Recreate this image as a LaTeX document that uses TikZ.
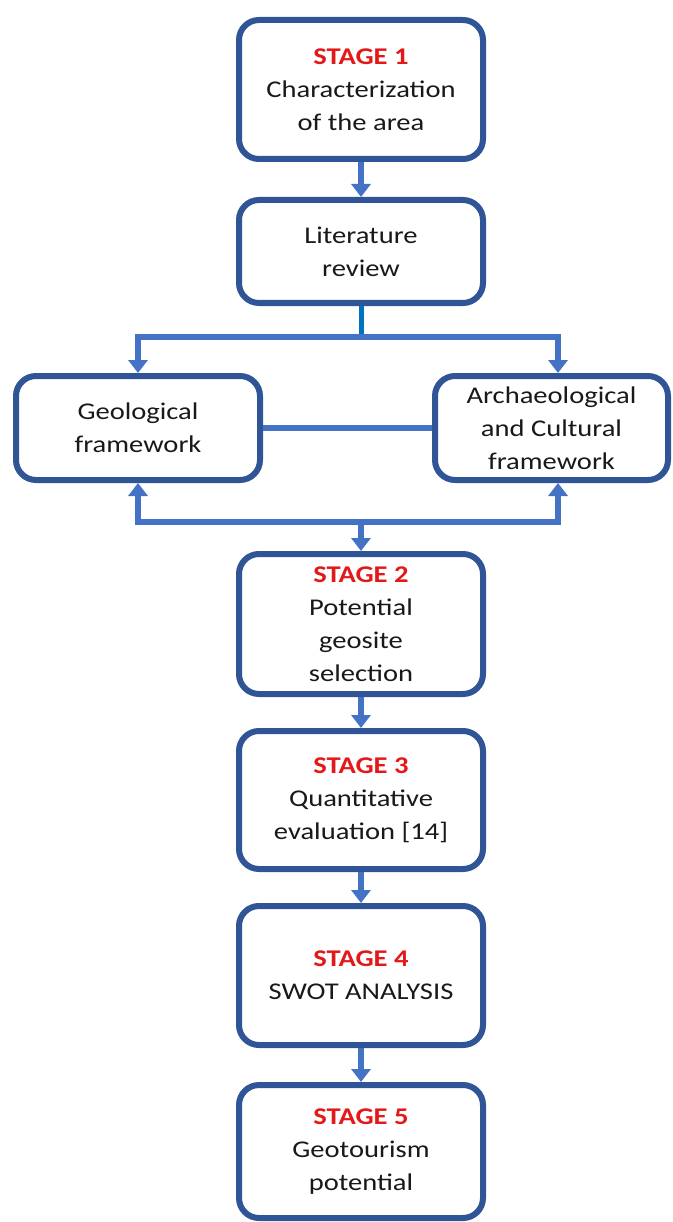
\documentclass[tikz,border=0pt]{standalone}
\usepackage{fontspec}
\setmainfont{Carlito}[FakeStretch=1.19]
\usetikzlibrary{arrows.meta}
\definecolor{boxblue}{RGB}{47,85,151}
\definecolor{arrblue}{RGB}{68,114,196}
\definecolor{stemblue}{RGB}{0,112,192}
\definecolor{stagered}{RGB}{228,24,24}
\definecolor{txt}{RGB}{25,25,25}
\tikzset{
  stagebox/.style={draw=boxblue, line width=6pt, rounded corners=20pt, fill=white,
    minimum width=244pt, align=center, inner sep=0pt, text=txt,
    font=\fontsize{24}{33}\selectfont},
  flow/.style={draw=arrblue, line width=6pt},
  tipend/.style={-{Triangle[width=19pt,length=13pt]}},
  tipboth/.style={{Triangle[width=19pt,length=13pt]}-{Triangle[width=19pt,length=13pt]}},
}
\newcommand{\stg}[1]{\textcolor{stagered}{\textbf{#1}}}
\begin{document}
\begin{tikzpicture}[x=1pt,y=-1pt]
\useasboundingbox (0,0) rectangle (672,1222);
\node[stagebox, minimum height=139pt] (s1) at (361,89.5) {\stg{STAGE 1}\\Characterization\\of the area};
\node[stagebox, minimum height=103pt] (lit) at (361,251.5) {Literature\\review};
\node[stagebox, minimum height=104pt] (geo) at (138,428) {Geological\\framework};
\node[stagebox, minimum height=104pt, minimum width=233pt] (arch) at (551.5,428) {Archaeological\\and Cultural\\framework};
\node[stagebox, minimum height=140pt] (s2) at (361,624) {\stg{STAGE 2}\\Potential\\geosite\\selection};
\node[stagebox, minimum height=138pt] (s3) at (361,800) {\stg{STAGE 3}\\Quantitative\\evaluation [14]};
\node[stagebox, minimum height=139pt] (s4) at (361,975.5) {\stg{STAGE 4}\\SWOT ANALYSIS};
\node[stagebox, minimum height=133pt] (s5) at (361,1151.5) {\stg{STAGE 5}\\Geotourism\\potential};

\coordinate (jt) at (361,337);
\coordinate (jtr) at (558,337);
\coordinate (jb) at (361,522);
\coordinate (jbr) at (558,522);

\draw[flow, tipend] (s1.south) -- (lit.north);
\draw[draw=stemblue, line width=5pt] (lit.south) -- (jt);
\draw[flow, tipboth] (geo.north) |- (jtr) -- (jtr |- arch.north);
\draw[flow] (geo.east) -- (arch.west);
\draw[flow, tipboth] (geo.south) |- (jbr) -- (jbr |- arch.south);
\draw[flow, tipend] (jb) -- (s2.north);
\draw[flow, tipend] (s2.south) -- (s3.north);
\draw[flow, tipend] (s3.south) -- (s4.north);
\draw[flow, tipend] (s4.south) -- (s5.north);
\end{tikzpicture}
\end{document}
